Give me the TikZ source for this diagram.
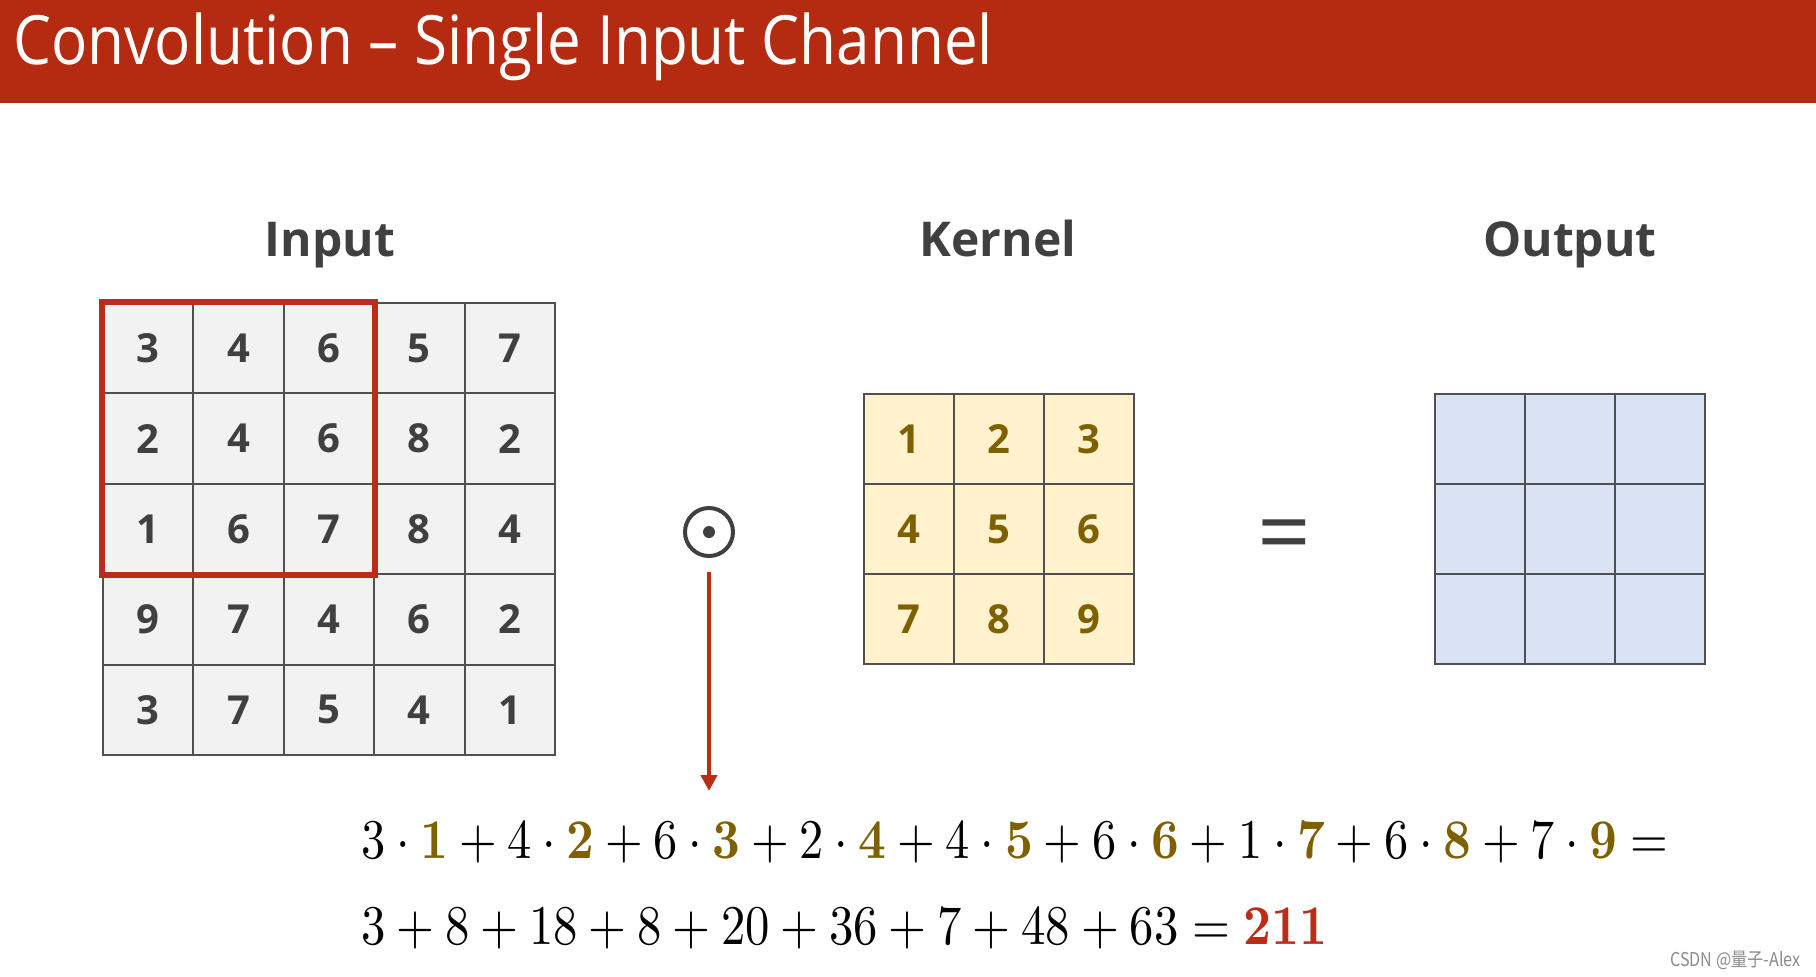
\documentclass[tikz,border=0pt]{standalone}
\usepackage[no-math]{fontspec}
\usepackage{graphicx}
\usetikzlibrary{arrows.meta}
\newfontfamily\osans{Open Sans}
\newfontfamily\cjk{Noto Sans CJK SC}
\definecolor{titlered}{HTML}{B52B12}
\definecolor{redc}{HTML}{BA2D16}
\definecolor{txtgray}{HTML}{404040}
\definecolor{gridgray}{HTML}{505050}
\definecolor{ingray}{HTML}{F2F2F2}
\definecolor{kfill}{HTML}{FFF2CC}
\definecolor{kgold}{HTML}{7F6000}
\definecolor{ofill}{HTML}{DAE3F3}
\definecolor{wmgray}{HTML}{8C8C8C}
\newcommand{\gk}[1]{{\color{kgold}\mathbf{#1}}}
\begin{document}
\begin{tikzpicture}[x=0.5pt,y=-0.5pt,
  cellbase/.style={draw=gridgray, line width=1pt, inner sep=0pt, anchor=center,
    font=\osans\bfseries\fontsize{20}{24}\selectfont},
  incell/.style={cellbase, fill=ingray, text=txtgray, minimum size=45.2pt},
  kcell/.style={cellbase, fill=kfill, text=kgold, minimum size=45pt},
  ocell/.style={cellbase, fill=ofill, minimum size=45pt},
  lbl/.style={anchor=base, inner sep=0pt, text=txtgray, font=\osans\bfseries\fontsize{24}{29}\selectfont},
  eqline/.style={anchor=base west, inner sep=0pt, font=\fontsize{10}{12}\selectfont}
]
\useasboundingbox (0,0) rectangle (1816,976);
\fill[white] (0,0) rectangle (1816,976);
% title bar
\fill[titlered] (0,0) rectangle (1816,103);
\node[anchor=base west, inner sep=0pt, text=white, font=\osans\fontsize{34}{40}\selectfont] (title) at (13,64)
  {\scalebox{0.885}[1]{Convolution – Single Input Channel}};
% labels
\node[lbl] (inlabel) at (330,256) {Input};
\node[lbl] (klabel) at (998,256) {Kernel};
\node[lbl] (olabel) at (1570,256) {Output};
% input grid
\foreach \row [count=\r] in {{3,4,6,5,7},{2,4,6,8,2},{1,6,7,8,4},{9,7,4,6,2},{3,7,5,4,1}} {
  \foreach \v [count=\c] in \row {
    \node[incell] (in-\r-\c) at ({103+90.4*(\c-0.5)},{303+90.4*(\r-0.5)}) {\v};
  }
}
\draw[redc, line width=3pt] (in-1-1.north west) rectangle (in-3-3.south east);
% kernel grid
\foreach \row [count=\r] in {{1,2,3},{4,5,6},{7,8,9}} {
  \foreach \v [count=\c] in \row {
    \node[kcell] (k-\r-\c) at ({864+90*(\c-0.5)},{394+90*(\r-0.5)}) {\v};
  }
}
% output grid
\foreach \r in {1,2,3} {
  \foreach \c in {1,2,3} {
    \node[ocell] (o-\r-\c) at ({1435+90*(\c-0.5)},{394+90*(\r-0.5)}) {};
  }
}
% odot
\node[draw=txtgray, line width=2pt, circle, minimum size=24pt, inner sep=0pt] (odot) at (709,532) {};
\fill[txtgray] (odot.center) circle (3pt);
% equals
\node[inner sep=0pt, text=txtgray, font=\osans\fontsize{47}{52}\selectfont] (equals) at (1284,543) {=};
% arrow
\coordinate (arrowtip) at (709,791);
\draw[redc, line width=2pt, -{Triangle[length=8pt,width=8pt]}, shorten <=7pt] (odot.south) -- (arrowtip);
% equations
\node[eqline] (eq1) at (361,858) {\scalebox{2.42}[2.8]{$3\cdot\gk{1}+4\cdot\gk{2}+6\cdot\gk{3}+2\cdot\gk{4}+4\cdot\gk{5}+6\cdot\gk{6}+1\cdot\gk{7}+6\cdot\gk{8}+7\cdot\gk{9}=$}};
\node[eqline] (eq2) at (361,944) {\scalebox{2.436}[2.8]{$3+8+18+8+20+36+7+48+63={\color{redc}\mathbf{211}}$}};
% watermark
\node[anchor=base east, inner sep=0pt, text=wmgray, font=\cjk\fontsize{9.5}{11}\selectfont] (wm) at (1801,966)
  {\scalebox{0.85}[1]{CSDN @量子-Alex}};
\end{tikzpicture}
\end{document}
